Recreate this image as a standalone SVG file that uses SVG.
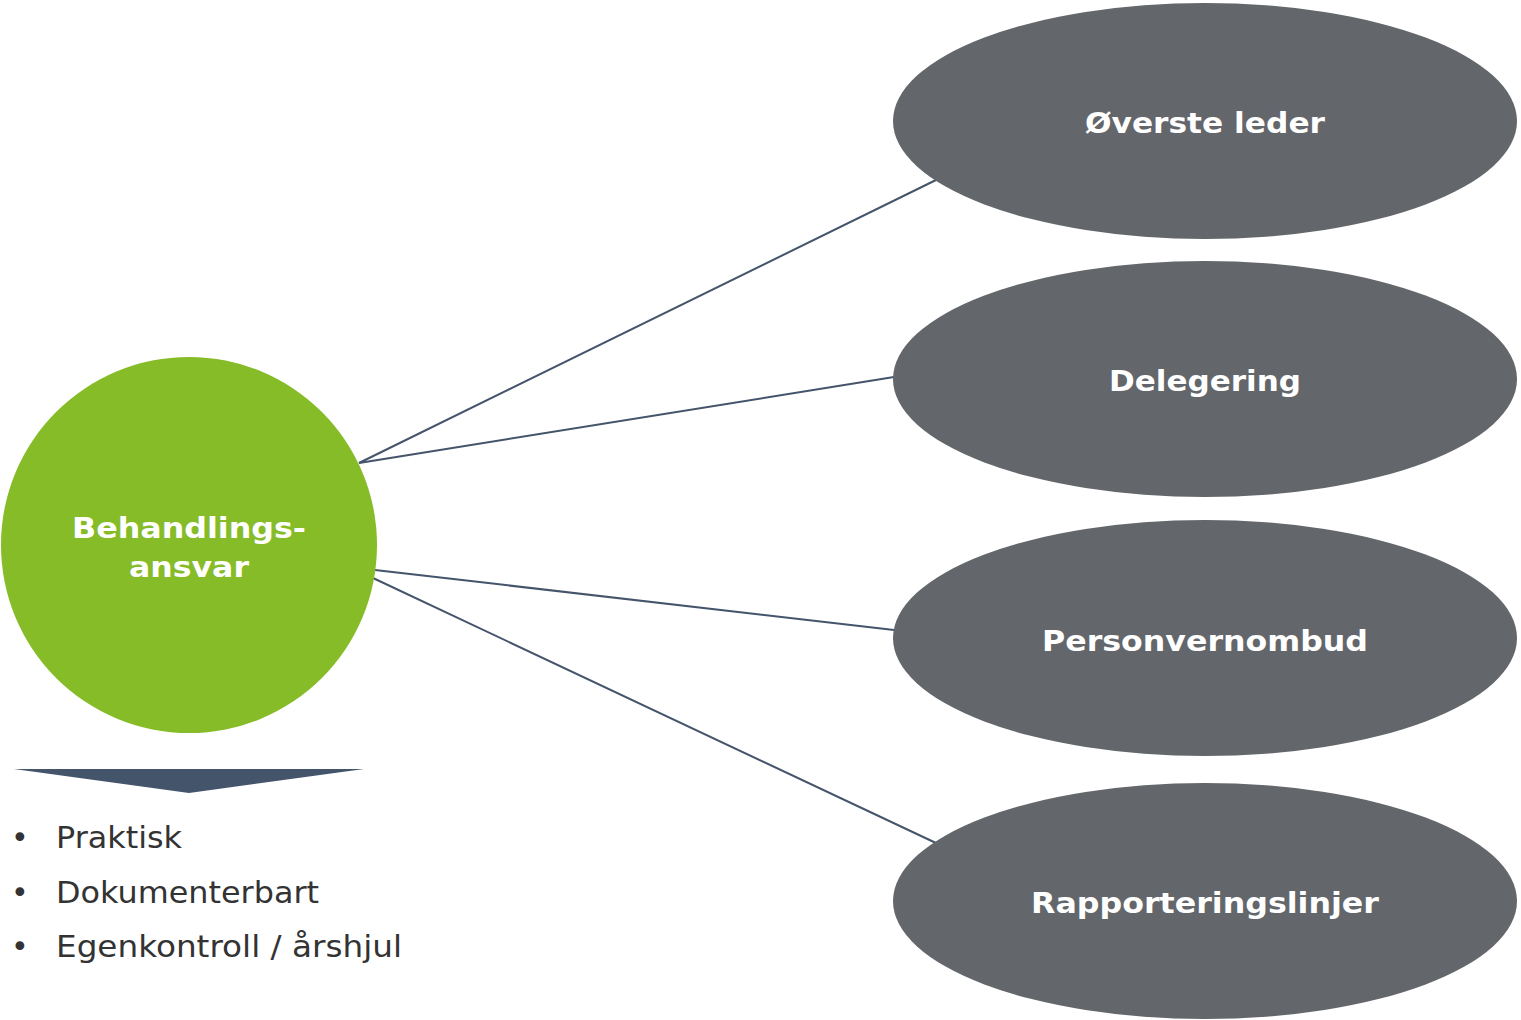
<svg xmlns="http://www.w3.org/2000/svg" width="1521" height="1020" viewBox="0 0 1521 1020">
<style>
.lbl{font-family:"DejaVu Sans",Verdana,sans-serif;font-weight:bold;font-size:29px;fill:#ffffff;text-anchor:middle}
.ell{fill:#63666a}
.bul{font-family:"DejaVu Sans",Verdana,sans-serif;font-size:30px;fill:#333333}
.con{stroke:#44546a;stroke-width:2;fill:none}
</style>
<rect width="1521" height="1020" fill="#ffffff"/>
<g id="connectors">
<line class="con" x1="359" y1="463" x2="936" y2="180"/>
<line class="con" x1="359" y1="463" x2="894" y2="377"/>
<line class="con" x1="375" y1="570" x2="894" y2="630"/>
<line class="con" x1="373" y1="578" x2="936" y2="843"/>
</g>
<g id="node-behandlingsansvar">
<circle cx="189" cy="545" r="188" fill="#86bc28"/>
<text class="lbl" x="189" y="538" textLength="234" lengthAdjust="spacingAndGlyphs">Behandlings-</text>
<text class="lbl" x="189" y="577" textLength="120" lengthAdjust="spacingAndGlyphs">ansvar</text>
</g>
<g id="node-overste-leder">
<ellipse class="ell" cx="1205" cy="121" rx="312" ry="118"/>
<text class="lbl" x="1205" y="133" textLength="240" lengthAdjust="spacingAndGlyphs">Øverste leder</text>
</g>
<g id="node-delegering">
<ellipse class="ell" cx="1205" cy="379" rx="312" ry="118"/>
<text class="lbl" x="1205" y="391" textLength="192" lengthAdjust="spacingAndGlyphs">Delegering</text>
</g>
<g id="node-personvernombud">
<ellipse class="ell" cx="1205" cy="638" rx="312" ry="118"/>
<text class="lbl" x="1205" y="651" textLength="326" lengthAdjust="spacingAndGlyphs">Personvernombud</text>
</g>
<g id="node-rapporteringslinjer">
<ellipse class="ell" cx="1205" cy="901" rx="312" ry="118"/>
<text class="lbl" x="1205" y="913" textLength="348" lengthAdjust="spacingAndGlyphs">Rapporteringslinjer</text>
</g>
<g id="list">
<polygon points="14,769 364,769 189,793" fill="#44546a"/>
<text class="bul" x="11" y="848">•</text>
<text class="bul" x="56" y="848" textLength="126" lengthAdjust="spacingAndGlyphs">Praktisk</text>
<text class="bul" x="11" y="903">•</text>
<text class="bul" x="56" y="903" textLength="263" lengthAdjust="spacingAndGlyphs">Dokumenterbart</text>
<text class="bul" x="11" y="957">•</text>
<text class="bul" x="56" y="957" textLength="346" lengthAdjust="spacingAndGlyphs">Egenkontroll / årshjul</text>
</g>
</svg>
